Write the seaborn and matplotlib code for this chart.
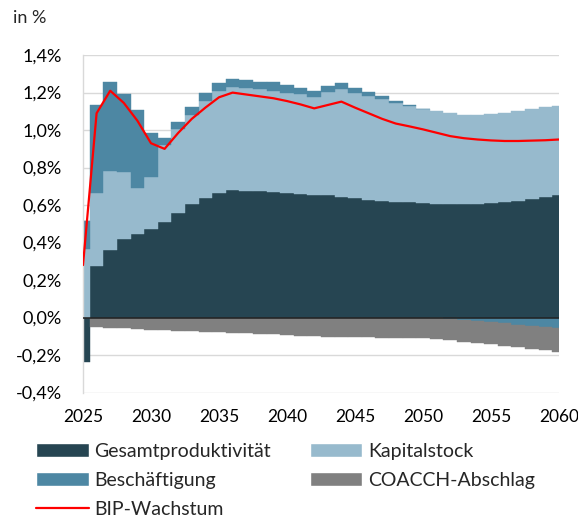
import numpy as np
import matplotlib
matplotlib.use("Agg")
import matplotlib.pyplot as plt
import seaborn as sns
from matplotlib.patches import Patch
from matplotlib.lines import Line2D
from matplotlib.ticker import FuncFormatter

years = list(range(2025, 2061))

# Beiträge zum BIP-Wachstum in Prozentpunkten
gesamtproduktivitaet = [-0.237, 0.277, 0.361, 0.418, 0.446, 0.473, 0.512, 0.559, 0.604, 0.639,
                        0.666, 0.679, 0.677, 0.673, 0.670, 0.664, 0.661, 0.655, 0.652, 0.641,
                        0.636, 0.629, 0.621, 0.616, 0.614, 0.611, 0.607, 0.604, 0.604, 0.605,
                        0.611, 0.616, 0.623, 0.632, 0.643, 0.654]
kapitalstock = [0.366, 0.388, 0.423, 0.361, 0.243, 0.275, 0.411, 0.445, 0.477, 0.518,
                0.543, 0.553, 0.550, 0.545, 0.539, 0.536, 0.530, 0.522, 0.552, 0.580,
                0.564, 0.553, 0.543, 0.530, 0.515, 0.503, 0.495, 0.485, 0.478, 0.477,
                0.473, 0.477, 0.481, 0.482, 0.480, 0.475]
beschaeftigung = [0.150, 0.468, 0.475, 0.412, 0.416, 0.234, 0.036, 0.039, 0.041, 0.039,
                  0.041, 0.041, 0.041, 0.041, 0.045, 0.041, 0.036, 0.032, 0.032, 0.029,
                  0.027, 0.022, 0.018, 0.009, 0.005, 0.000, -0.003, -0.008, -0.012, -0.018,
                  -0.024, -0.030, -0.037, -0.044, -0.051, -0.058]
coacch_abschlag = [0.0, -0.050, -0.053, -0.057, -0.060, -0.064, -0.067, -0.069, -0.072, -0.075,
                   -0.078, -0.081, -0.084, -0.087, -0.090, -0.093, -0.096, -0.099, -0.101, -0.103,
                   -0.105, -0.106, -0.108, -0.109, -0.110, -0.111, -0.113, -0.114, -0.116, -0.117,
                   -0.118, -0.119, -0.120, -0.121, -0.122, -0.124]
bip_wachstum = [0.28, 1.09, 1.21, 1.145, 1.05, 0.93, 0.90, 0.985, 1.06, 1.12,
                1.175, 1.20, 1.19, 1.18, 1.17, 1.155, 1.137, 1.116, 1.134, 1.152,
                1.12, 1.09, 1.06, 1.035, 1.02, 1.004, 0.986, 0.968, 0.957, 0.95,
                0.945, 0.942, 0.942, 0.944, 0.946, 0.95]

series = [
    ("Gesamtproduktivität", gesamtproduktivitaet, "#264552"),
    ("Kapitalstock", kapitalstock, "#97BACD"),
    ("Beschäftigung", beschaeftigung, "#4D87A3"),
    ("COACCH-Abschlag", coacch_abschlag, "#808080"),
]

sns.set_theme(style="whitegrid")
plt.rcParams["font.family"] = ["Lato", "DejaVu Sans"]
plt.rcParams["font.size"] = 13

fig = plt.figure(figsize=(5.78, 5.2), dpi=100)
ax = fig.add_axes([0.1436, 0.245, 0.8235, 0.649])

pos_bottom = np.zeros(len(years))
neg_bottom = np.zeros(len(years))
for name, vals, col in series:
    v = np.array(vals)
    bottom = np.where(v >= 0, pos_bottom, neg_bottom)
    ax.bar(years, v, width=1.0, bottom=bottom, color=col, edgecolor=col,
           linewidth=0.3, zorder=2)
    pos_bottom += np.where(v >= 0, v, 0)
    neg_bottom += np.where(v < 0, v, 0)

ax.axhline(0, color="#1f1f1f", lw=1.1, zorder=3)
sns.lineplot(x=years, y=bip_wachstum, color="#FF0000", lw=1.6, ax=ax, zorder=4)

ax.set_xlim(2025, 2060)
ax.set_ylim(-0.4, 1.4)
ax.set_xticks(range(2025, 2061, 5))
ax.set_yticks(np.arange(-0.4, 1.41, 0.2))
ax.yaxis.set_major_formatter(FuncFormatter(lambda v, p: f"{v:.1f}%".replace(".", ",").replace("-0,0", "0,0")))
ax.tick_params(axis="y", length=0, pad=15, labelsize=13, colors="black")
ax.tick_params(axis="x", length=0, pad=12, labelsize=12.5, colors="black")
ax.grid(axis="x", visible=False)
ax.grid(axis="y", color="#d9d9d9", lw=1)
ax.set_axisbelow(True)
ax.set_facecolor("white")
for s in ["top", "right", "bottom"]:
    ax.spines[s].set_visible(False)
ax.spines["left"].set_color("#d9d9d9")
ax.spines["left"].set_linewidth(1)
ax.set_xlabel("")
ax.set_ylabel("")

fig.text(0.022, 0.965, "in %", fontsize=13, va="center", ha="left")

handles = [
    Patch(facecolor="#264552", label="Gesamtproduktivität"),
    Patch(facecolor="#4D87A3", label="Beschäftigung"),
    Line2D([], [], color="#FF0000", lw=1.6, label="BIP-Wachstum"),
    Patch(facecolor="#97BACD", label="Kapitalstock"),
    Patch(facecolor="#808080", label="COACCH-Abschlag"),
]
fig.legend(handles=handles, ncol=2, loc="upper left", bbox_to_anchor=(36 / 578, 1 - 443 / 520),
           frameon=False, fontsize=14, handlelength=2.7, handletextpad=0.3,
           columnspacing=2.0, labelspacing=0.62, borderpad=0, borderaxespad=0)

fig.savefig("out.png", dpi=100)
